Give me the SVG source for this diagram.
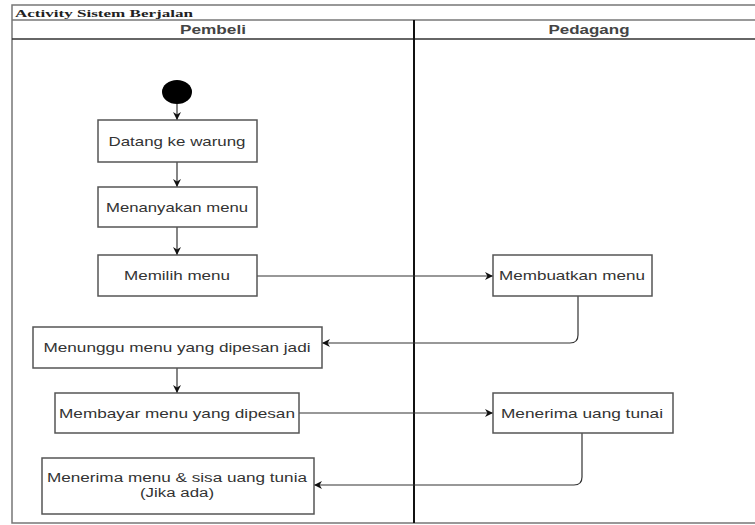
<svg xmlns="http://www.w3.org/2000/svg" width="755" height="525" viewBox="0 0 755 525">
<style>
.frame{fill:none;stroke:#777;stroke-width:1.5}
.div{stroke:#111;stroke-width:2}
.box{fill:#fff;stroke:#555;stroke-width:1.5}
.t{font-family:"Liberation Sans",Arial,sans-serif;font-size:13px;fill:#333;text-anchor:middle}
.s{font-size:12px}
.h{font-family:"Liberation Sans",Arial,sans-serif;font-size:13px;font-weight:bold;fill:#444;text-anchor:middle}
.title{font-family:"Liberation Serif","Times New Roman",serif;font-size:11px;font-weight:bold;fill:#222}
.c{fill:none;stroke:#333;stroke-width:1.2}
</style>
<defs>
<marker id="ah" viewBox="0 0 10 10" refX="10" refY="5" markerWidth="8" markerHeight="8" markerUnits="userSpaceOnUse" orient="auto">
<path d="M0,0 L10,5 L0,10 L3,5 Z" fill="#111"/>
</marker>
</defs>
<rect width="755" height="525" fill="#fff"/>
<g id="pool">
<path class="frame" d="M755,5 H12 V523 H755"/>
<line class="frame" x1="12" y1="20" x2="755" y2="20"/>
<line x1="12" y1="39" x2="755" y2="39" stroke="#333" stroke-width="1.5"/>
<line class="div" x1="414" y1="20" x2="414" y2="523"/>
<text class="title" x="15" y="17" textLength="178" lengthAdjust="spacingAndGlyphs">Activity Sistem Berjalan</text>
<text class="h" x="213" y="34" textLength="66" lengthAdjust="spacingAndGlyphs">Pembeli</text>
<text class="h" x="589" y="34" textLength="81" lengthAdjust="spacingAndGlyphs">Pedagang</text>
</g>
<g id="connectors">
<line class="c" x1="177" y1="104" x2="177" y2="120" marker-end="url(#ah)"/>
<line class="c" x1="177" y1="162" x2="177" y2="187" marker-end="url(#ah)"/>
<line class="c" x1="177" y1="227" x2="177" y2="255" marker-end="url(#ah)"/>
<line class="c" x1="257" y1="276" x2="493" y2="276" marker-end="url(#ah)"/>
<path class="c" d="M578,296 V335 Q578,343 570,343 H322" marker-end="url(#ah)"/>
<line class="c" x1="177" y1="368" x2="177" y2="393" marker-end="url(#ah)"/>
<line class="c" x1="299" y1="413" x2="493" y2="413" marker-end="url(#ah)"/>
<path class="c" d="M582,433 V477 Q582,485 574,485 H314" marker-end="url(#ah)"/>
</g>
<g id="start"><ellipse cx="177" cy="92" rx="15" ry="12" fill="#000"/></g>
<g id="n1"><rect class="box" x="98" y="120" width="159" height="42"/><text class="t" x="177" y="146" textLength="137" lengthAdjust="spacingAndGlyphs">Datang ke warung</text></g>
<g id="n2"><rect class="box" x="98" y="187" width="159" height="40"/><text class="t" x="177" y="212" textLength="142" lengthAdjust="spacingAndGlyphs">Menanyakan menu</text></g>
<g id="n3"><rect class="box" x="98" y="255" width="159" height="41"/><text class="t" x="177" y="280" textLength="106" lengthAdjust="spacingAndGlyphs">Memilih menu</text></g>
<g id="n4"><rect class="box" x="493" y="255" width="159" height="41"/><text class="t" x="572" y="280" textLength="146" lengthAdjust="spacingAndGlyphs">Membuatkan menu</text></g>
<g id="n5"><rect class="box" x="33" y="327" width="289" height="41"/><text class="t" x="177" y="352" textLength="267" lengthAdjust="spacingAndGlyphs">Menunggu menu yang dipesan jadi</text></g>
<g id="n6"><rect class="box" x="55" y="393" width="244" height="40"/><text class="t" x="177" y="418" textLength="236" lengthAdjust="spacingAndGlyphs">Membayar menu yang dipesan</text></g>
<g id="n7"><rect class="box" x="493" y="393" width="180" height="40"/><text class="t" x="582" y="418" textLength="162" lengthAdjust="spacingAndGlyphs">Menerima uang tunai</text></g>
<g id="n8"><rect class="box" x="42" y="458" width="272" height="56"/><text class="t s" x="177" y="482" textLength="260" lengthAdjust="spacingAndGlyphs">Menerima menu &amp; sisa uang tunia</text><text class="t s" x="177" y="497" textLength="74" lengthAdjust="spacingAndGlyphs">(Jika ada)</text></g>
</svg>
